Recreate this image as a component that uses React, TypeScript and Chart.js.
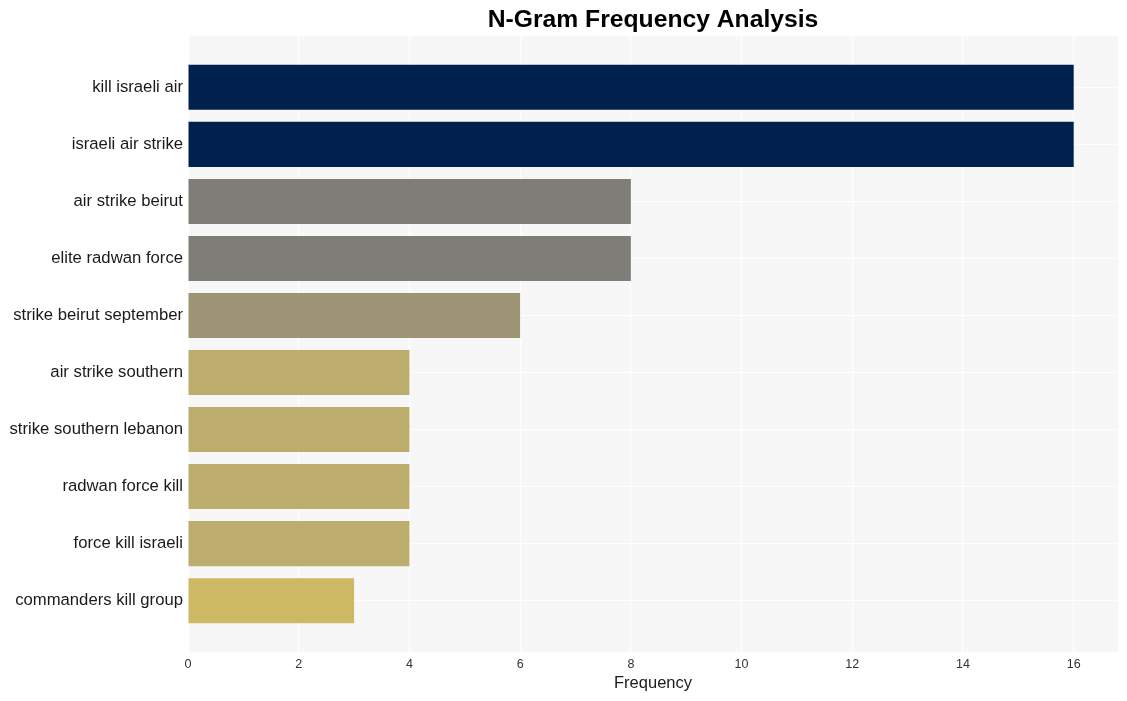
import React, { useEffect, useRef } from "react";
import { Chart, registerables } from "chart.js";

Chart.register(...registerables);

const categories = [
  "kill israeli air",
  "israeli air strike",
  "air strike beirut",
  "elite radwan force",
  "strike beirut september",
  "air strike southern",
  "strike southern lebanon",
  "radwan force kill",
  "force kill israeli",
  "commanders kill group",
];
const values = [16, 16, 8, 8, 6, 4, 4, 4, 4, 3];
const barColors = [
  "#00214e",
  "#00214e",
  "#7f7d77",
  "#7f7d77",
  "#9c9474",
  "#bcad6d",
  "#bcad6d",
  "#bcad6d",
  "#bcad6d",
  "#cdb964",
];
const titleText = "N-Gram Frequency Analysis";
const xTitle = "Frequency";

const FONT = "'Liberation Sans', Arial, Helvetica, sans-serif";

export default function App() {
  const ref = useRef<HTMLCanvasElement | null>(null);

  useEffect(() => {
    document.body.style.margin = "0";
    const canvas = ref.current;
    if (!canvas) return;

    const bgPlugin = {
      id: "bgPlugin",
      beforeDraw(chart: any) {
        const { ctx, chartArea } = chart;
        ctx.save();
        ctx.fillStyle = "#ffffff";
        ctx.fillRect(0, 0, chart.width, chart.height);
        ctx.fillStyle = "#f7f7f7";
        ctx.fillRect(chartArea.left, chartArea.top, chartArea.right - chartArea.left, chartArea.bottom - chartArea.top);
        ctx.restore();
      },
      afterDraw(chart: any) {
        const { ctx, chartArea } = chart;
        ctx.save();
        ctx.fillStyle = "#000000";
        ctx.font = `bold 24.7px ${FONT}`;
        ctx.textAlign = "center";
        ctx.textBaseline = "middle";
        ctx.fillText(titleText, (chartArea.left + chartArea.right) / 2, 20);
        ctx.restore();
      },
    };

    const chart = new Chart(canvas, {
      type: "bar",
      data: {
        datasets: [
          {
            data: values.map((v, i) => ({ x: v, y: i })),
            backgroundColor: barColors,
            borderWidth: 0,
            barPercentage: 0.79,
            categoryPercentage: 1,
          },
        ],
      },
      options: {
        indexAxis: "y",
        responsive: false,
        animation: false,
        layout: { padding: { top: 36, right: 9, left: 0, bottom: 0 } },
        plugins: {
          legend: { display: false },
          title: { display: false },
          tooltip: { enabled: false },
        },
        scales: {
          x: {
            type: "linear",
            min: 0,
            max: 16.8,
            offset: false,
            grid: { color: "#ffffff", lineWidth: 1, drawTicks: false, offset: false },
            border: { display: false },
            ticks: {
              stepSize: 2,
              includeBounds: false,
              color: "#333333",
              font: { family: FONT, size: 12.5 },
              padding: 5,
            },
            title: {
              display: true,
              text: xTitle,
              color: "#1a1a1a",
              font: { family: FONT, size: 16.5 },
              padding: { top: 2, bottom: 8 },
            },
            afterFit(scale: any) {
              scale.height = 49;
            },
          },
          y: {
            type: "linear",
            reverse: true,
            min: -0.9,
            max: 9.9,
            offset: false,
            grid: { color: "#ffffff", lineWidth: 1, drawTicks: false, offset: false },
            border: { display: false },
            afterBuildTicks(scale: any) {
              scale.ticks = categories.map((_, i) => ({ value: i }));
            },
            ticks: {
              autoSkip: false,
              color: "#1a1a1a",
              font: { family: FONT, size: 16.7 },
              padding: 5,
              callback: (v: any) => categories[Number(v)] ?? "",
            },
            afterFit(scale: any) {
              scale.width = 188;
            },
          },
        },
      },
      plugins: [bgPlugin],
    } as any);

    return () => chart.destroy();
  }, []);

  return (
    <div style={{ width: 1127, height: 701 }}>
      <canvas ref={ref} width={1127} height={701} style={{ display: "block" }} />
    </div>
  );
}
